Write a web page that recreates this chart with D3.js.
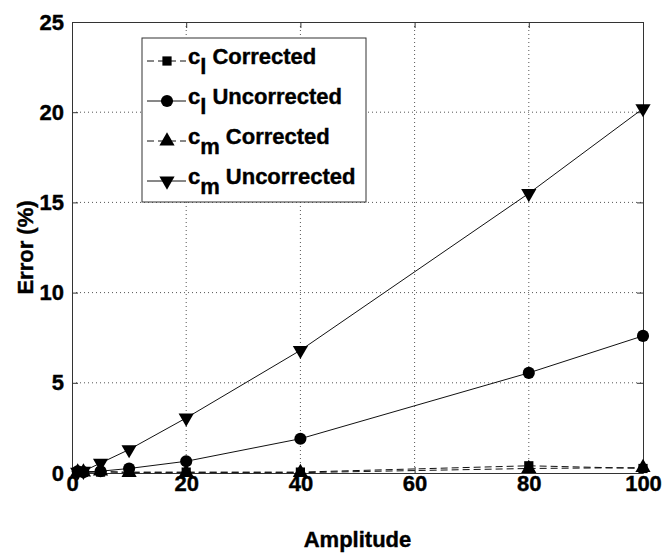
<!DOCTYPE html>
<html>
<head>
<meta charset="utf-8">
<script src="https://cdn.jsdelivr.net/npm/d3@7"></script>
<style>
  body { margin: 0; background: #fff; }
  text { font-family: "Liberation Sans", Arial, sans-serif; font-weight: bold; stroke: #000; stroke-width: 0.4px; }
</style>
</head>
<body>
<div id="chart"></div>
<script>
// data
const amplitude = [1, 2, 5, 10, 20, 40, 80, 100];
const clCorrected = [0.05, 0.05, 0.05, 0.05, 0.05, 0.05, 0.4, 0.25];
const clUncorrected = [0.1, 0.05, 0.1, 0.25, 0.65, 1.9, 5.55, 7.6];
const cmCorrected = [0.05, 0.05, 0.1, 0.02, 0.02, 0.02, 0.25, 0.3];
const cmUncorrected = [0.05, 0.1, 0.55, 1.3, 3.05, 6.8, 15.5, 20.2];
const xTicks = [0, 20, 40, 60, 80, 100];
const yTicks = [0, 5, 10, 15, 20, 25];

const series = [
    { sub: "l", label: "Corrected", values: clCorrected, symbol: d3.symbolSquare, dashed: true },
    { sub: "l", label: "Uncorrected", values: clUncorrected, symbol: d3.symbolCircle, dashed: false },
    { sub: "m", label: "Corrected", values: cmCorrected, symbol: d3.symbolTriangle, dashed: true },
    { sub: "m", label: "Uncorrected", values: cmUncorrected, symbol: "down", dashed: false }
];

const W = 663, H = 553;
const FS = "22px";
const margin = { top: 22, left: 72 };
const width = 643 - margin.left, height = 473 - margin.top;

const svg = d3.select("#chart").append("svg")
    .attr("width", W).attr("height", H);
const g = svg.append("g").attr("transform", `translate(${margin.left},${margin.top})`);

const x = d3.scaleLinear().domain([0, 100]).range([0, width]);
const y = d3.scaleLinear().domain([0, 25]).range([height, 0]);

// grid
g.append("g").selectAll("line")
    .data(xTicks.slice(1, -1)).join("line")
    .attr("x1", d => x(d)).attr("x2", d => x(d))
    .attr("y1", 0).attr("y2", height)
    .attr("stroke", "#555").attr("stroke-width", 1).attr("stroke-dasharray", "1,3");
g.append("g").selectAll("line")
    .data(yTicks.slice(1, -1)).join("line")
    .attr("y1", d => y(d)).attr("y2", d => y(d))
    .attr("x1", 0).attr("x2", width)
    .attr("stroke", "#555").attr("stroke-width", 1).attr("stroke-dasharray", "1,3");

// axes
const xAxis = g.append("g").attr("transform", `translate(0,${height})`)
    .call(d3.axisBottom(x).tickValues(xTicks).tickSizeInner(-6).tickSizeOuter(0).tickPadding(2));
const yAxis = g.append("g")
    .call(d3.axisLeft(y).tickValues(yTicks).tickSizeInner(-6).tickSizeOuter(0).tickPadding(8));
g.append("g").attr("transform", `translate(${width},0)`)
    .call(d3.axisRight(y).tickValues(yTicks).tickSizeInner(-6).tickSizeOuter(0).tickFormat(""));
g.append("g")
    .call(d3.axisTop(x).tickValues(xTicks).tickSizeInner(-6).tickSizeOuter(0).tickFormat(""));
g.selectAll(".domain").attr("stroke", "#333");
g.selectAll(".tick line").attr("stroke", "#333");
g.selectAll(".tick text").style("font-size", FS).attr("fill", "#000")
    .style("font-family", "'Liberation Sans', Arial, sans-serif").style("font-weight", "bold");
xAxis.selectAll(".tick text").attr("dy", "0.72em");

// labels
svg.append("text").attr("x", margin.left + width / 2).attr("y", 547)
    .attr("text-anchor", "middle").style("font-size", FS).text("Amplitude");
svg.append("text").attr("transform", `translate(33,${margin.top + height / 2}) rotate(-90)`)
    .attr("text-anchor", "middle").style("font-size", FS).text("Error (%)");

const symbolPath = (s, size) => d3.symbol(s === "down" ? d3.symbolTriangle : s, size)();
const symSize = s => s === d3.symbolCircle ? 115 : (s === d3.symbolSquare ? 85 : 100);

// lines and markers
const line = d3.line().x((d, i) => x(amplitude[i])).y(d => y(d));
series.forEach(s => {
    g.append("path").datum(s.values)
        .attr("d", line)
        .attr("fill", "none").attr("stroke", "#111").attr("stroke-width", 1)
        .attr("stroke-dasharray", s.dashed ? "7,4" : null);
    g.append("g").selectAll("path")
        .data(s.values).join("path")
        .attr("d", symbolPath(s.symbol, symSize(s.symbol)))
        .attr("transform", (d, i) => `translate(${x(amplitude[i])},${y(d)})` + (s.symbol === "down" ? " rotate(180)" : ""))
        .attr("fill", "#000");
});

// legend
const lg = svg.append("g");
lg.append("rect").attr("x", 142).attr("y", 38).attr("width", 224).attr("height", 164)
    .attr("fill", "#fff").attr("stroke", "#333").attr("stroke-width", 1);
series.forEach((s, i) => {
    const base = 64 + i * 40;
    const my = base - 3;
    lg.append("line").attr("x1", 147).attr("x2", 186).attr("y1", my).attr("y2", my)
        .attr("stroke", "#111").attr("stroke-dasharray", s.dashed ? "7,4" : null);
    lg.append("path").attr("d", symbolPath(s.symbol, symSize(s.symbol)))
        .attr("transform", `translate(167,${my})` + (s.symbol === "down" ? " rotate(180)" : ""));
    const t = lg.append("text").attr("x", 188).attr("y", base).style("font-size", FS);
    t.append("tspan").text("c");
    t.append("tspan").attr("dy", 10).text(s.sub);
    t.append("tspan").attr("dy", -10).attr("dx", 6).text(s.label);
});
</script>
</body>
</html>
